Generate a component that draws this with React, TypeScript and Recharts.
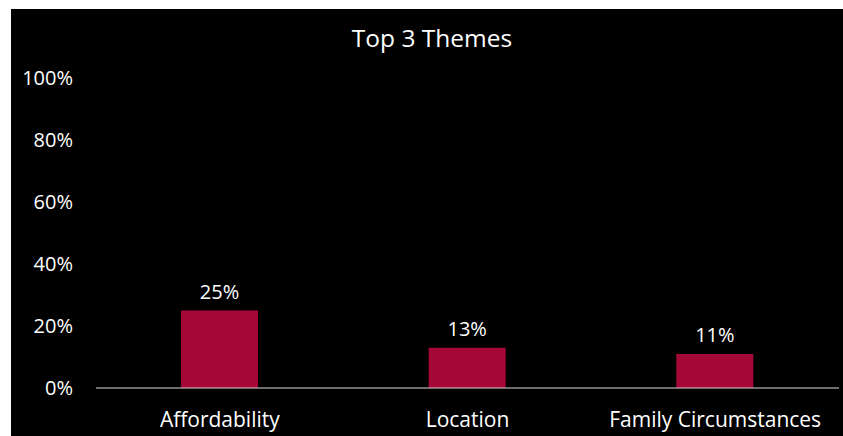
import { BarChart, Bar, XAxis, YAxis, LabelList } from "recharts";

const themes = ["Affordability", "Location", "Family Circumstances"];
const shares = [25, 13, 11];
const yTicks = [0, 20, 40, 60, 80, 100];

const data = themes.map((theme, i) => ({ theme, share: shares[i] }));

const FONT = "'Open Sans', Lato, sans-serif";
const BAR_COLOR = "#a50836";

export default function App() {
  return (
    <div
      style={{
        position: "absolute",
        left: 11,
        top: 9,
        width: 832,
        height: 427,
        background: "#000",
        fontFamily: FONT,
      }}
    >
      <BarChart
        width={832}
        height={427}
        data={data}
        margin={{ top: 69, right: 4, bottom: 0, left: 0 }}
      >
        <text x={421} y={38} textAnchor="middle" fill="#fff" fontSize={24.5} fontFamily={FONT}>
          Top 3 Themes
        </text>
        <XAxis
          dataKey="theme"
          height={48}
          stroke="#d9d9d9"
          tickLine={false}
          tickSize={0}
          tickMargin={24}
          tick={{ fill: "#fff", fontSize: 21, fontFamily: FONT }}
          interval={0}
        />
        <YAxis
          width={85}
          domain={[0, 100]}
          ticks={yTicks}
          axisLine={false}
          tickLine={false}
          tickSize={0}
          tickMargin={23}
          tickFormatter={(v) => `${v}%`}
          tick={{ fill: "#fff", fontSize: 20, fontFamily: FONT }}
        />
        <Bar dataKey="share" fill={BAR_COLOR} barSize={77} isAnimationActive={false}>
          <LabelList
            dataKey="share"
            position="top"
            offset={12}
            formatter={(v: number) => `${v}%`}
            fill="#fff"
            fontSize={20}
            fontFamily={FONT}
          />
        </Bar>
      </BarChart>
    </div>
  );
}
